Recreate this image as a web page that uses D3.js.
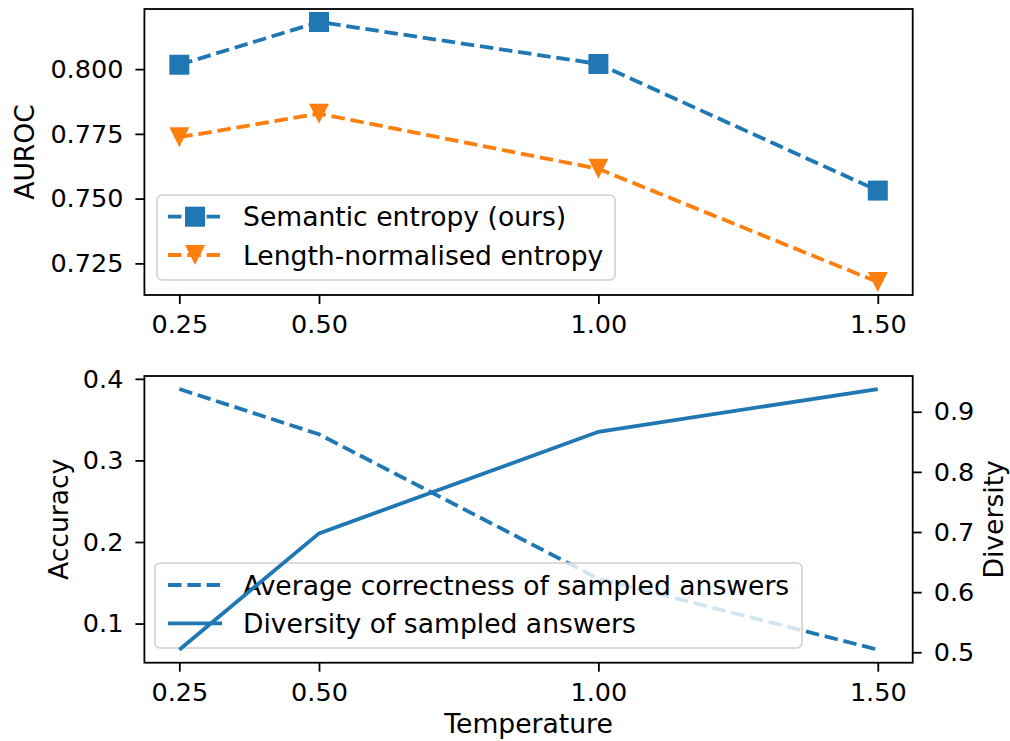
<!DOCTYPE html>
<html>
<head>
<meta charset="utf-8">
<script src="https://cdn.jsdelivr.net/npm/d3@7"></script>
<style>
  body { margin: 0; background: #fff; }
  svg text { font-family: "DejaVu Sans", sans-serif; fill: #000; }
</style>
</head>
<body>
<div id="chart"></div>
<script>
// data
const temperatures = [0.25, 0.50, 1.00, 1.50];
const semanticEntropy = [0.8017, 0.8182, 0.8020, 0.7531];
const lengthNormEntropy = [0.7737, 0.7828, 0.7615, 0.7178];
const avgCorrectness = [0.3875, 0.332, 0.155, 0.068];
const diversity = [0.5043, 0.6977, 0.8667, 0.9378];

const xTicks = [0.25, 0.50, 1.00, 1.50];
const aurocTicks = [0.725, 0.750, 0.775, 0.800];
const accTicks = [0.1, 0.2, 0.3, 0.4];
const divTicks = [0.5, 0.6, 0.7, 0.8, 0.9];

const topLegend = ['Semantic entropy (ours)', 'Length-normalised entropy'];
const bottomLegend = ['Average correctness of sampled answers', 'Diversity of sampled answers'];

const blue = '#1f77b4';
const orange = '#ff7f0e';
const tickFont = 25.5;
const labelFont = 26.6;
const lw = 3.8;
const dash = '13.5,5.8';

const W = 1010, H = 741;
const left = 144.4, right = 912.7;
const topPanel = { y0: 9, y1: 295 };
const botPanel = { y0: 376, y1: 662.7 };

const svg = d3.select('#chart').append('svg')
    .attr('width', W)
    .attr('height', H);

// matplotlib style auto limits: data extent plus 5% margin
function padded(values) {
    const [lo, hi] = d3.extent(values);
    const m = (hi - lo) * 0.05;
    return [lo - m, hi + m];
}

const x = d3.scaleLinear()
    .domain(padded(temperatures))
    .range([left, right]);

function styleAxis(g) {
    g.selectAll('.domain').remove();
    g.selectAll('.tick line').attr('stroke', '#000').attr('stroke-width', 1.8);
    g.selectAll('.tick text').attr('font-size', tickFont).attr('fill', '#000');
}

function drawFrame(panel) {
    svg.append('rect')
        .attr('x', left)
        .attr('y', panel.y0)
        .attr('width', right - left)
        .attr('height', panel.y1 - panel.y0)
        .attr('fill', 'none')
        .attr('stroke', '#000')
        .attr('stroke-width', 1.8);
}

function drawXAxis(panel) {
    svg.append('g')
        .attr('transform', `translate(0,${panel.y1})`)
        .call(d3.axisBottom(x).tickValues(xTicks).tickFormat(d3.format('.2f')).tickSize(9).tickPadding(11))
        .call(styleAxis);
}

function legendBox(g, x0, y0, w, h) {
    g.append('rect')
        .attr('x', x0)
        .attr('y', y0)
        .attr('width', w)
        .attr('height', h)
        .attr('rx', 5)
        .attr('fill', '#fff')
        .attr('fill-opacity', 0.8)
        .attr('stroke', '#d0d0d0')
        .attr('stroke-width', 1.6);
}

function triangleDown(size) {
    const h = size / 2;
    return `M${-h},${-h}L${h},${-h}L0,${h}Z`;
}

// ---------- top panel: AUROC ----------
const yTop = d3.scaleLinear()
    .domain(padded(semanticEntropy.concat(lengthNormEntropy)))
    .range([topPanel.y1, topPanel.y0]);

svg.append('g')
    .attr('transform', `translate(${left},0)`)
    .call(d3.axisLeft(yTop).tickValues(aurocTicks).tickFormat(d3.format('.3f')).tickSize(9).tickPadding(12))
    .call(styleAxis);
drawXAxis(topPanel);

const lineTop = d3.line()
    .x((d, i) => x(temperatures[i]))
    .y(d => yTop(d));

const topSeries = [
    { values: semanticEntropy, color: blue, marker: 'square' },
    { values: lengthNormEntropy, color: orange, marker: 'tri' }
];

function drawMarker(g, kind, color, cx, cy) {
    if (kind === 'square') {
        g.append('rect')
            .attr('x', cx - 10).attr('y', cy - 10)
            .attr('width', 20).attr('height', 20)
            .attr('fill', color);
    } else {
        g.append('path')
            .attr('d', triangleDown(20))
            .attr('transform', `translate(${cx},${cy})`)
            .attr('fill', color);
    }
}

topSeries.forEach(s => {
    svg.append('path')
        .datum(s.values)
        .attr('d', lineTop)
        .attr('fill', 'none')
        .attr('stroke', s.color)
        .attr('stroke-width', lw)
        .attr('stroke-dasharray', dash);
    const mg = svg.append('g');
    s.values.forEach((v, i) => drawMarker(mg, s.marker, s.color, x(temperatures[i]), yTop(v)));
});

const lgTop = svg.append('g');
legendBox(lgTop, 157, 195, 458, 85);
topSeries.forEach((s, i) => {
    const cy = 216.7 + i * 38.3;
    lgTop.append('line')
        .attr('x1', 168).attr('x2', 222)
        .attr('y1', cy).attr('y2', cy)
        .attr('stroke', s.color)
        .attr('stroke-width', lw)
        .attr('stroke-dasharray', dash);
    drawMarker(lgTop, s.marker, s.color, 195, cy);
    lgTop.append('text')
        .attr('x', 243)
        .attr('y', cy)
        .attr('dy', '0.36em')
        .attr('font-size', labelFont)
        .text(topLegend[i]);
});

drawFrame(topPanel);

svg.append('text')
    .attr('transform', `translate(24,${(topPanel.y0 + topPanel.y1) / 2}) rotate(-90)`)
    .attr('text-anchor', 'middle')
    .attr('dy', '0.36em')
    .attr('font-size', labelFont)
    .text('AUROC');

// ---------- bottom panel: accuracy & diversity ----------
const yAcc = d3.scaleLinear()
    .domain(padded(avgCorrectness))
    .range([botPanel.y1, botPanel.y0]);
const yDiv = d3.scaleLinear()
    .domain(padded(diversity))
    .range([botPanel.y1, botPanel.y0]);

svg.append('g')
    .attr('transform', `translate(${left},0)`)
    .call(d3.axisLeft(yAcc).tickValues(accTicks).tickFormat(d3.format('.1f')).tickSize(9).tickPadding(12))
    .call(styleAxis);
svg.append('g')
    .attr('transform', `translate(${right},0)`)
    .call(d3.axisRight(yDiv).tickValues(divTicks).tickFormat(d3.format('.1f')).tickSize(9).tickPadding(12))
    .call(styleAxis);
drawXAxis(botPanel);

svg.append('path')
    .datum(avgCorrectness)
    .attr('d', d3.line().x((d, i) => x(temperatures[i])).y(d => yAcc(d)))
    .attr('fill', 'none')
    .attr('stroke', blue)
    .attr('stroke-width', lw)
    .attr('stroke-dasharray', dash);

// legend belongs to the accuracy axes, so the twin-axis line sits above it
const lgBot = svg.append('g');
legendBox(lgBot, 155, 563, 647, 85);
bottomLegend.forEach((label, i) => {
    const cy = 585 + i * 38.3;
    lgBot.append('line')
        .attr('x1', 168).attr('x2', 222)
        .attr('y1', cy).attr('y2', cy)
        .attr('stroke', blue)
        .attr('stroke-width', lw)
        .attr('stroke-dasharray', i === 0 ? dash : null);
    lgBot.append('text')
        .attr('x', 243)
        .attr('y', cy)
        .attr('dy', '0.36em')
        .attr('font-size', labelFont)
        .text(label);
});

svg.append('path')
    .datum(diversity)
    .attr('d', d3.line().x((d, i) => x(temperatures[i])).y(d => yDiv(d)))
    .attr('fill', 'none')
    .attr('stroke', blue)
    .attr('stroke-width', lw);

drawFrame(botPanel);

svg.append('text')
    .attr('transform', `translate(58,${(botPanel.y0 + botPanel.y1) / 2}) rotate(-90)`)
    .attr('text-anchor', 'middle')
    .attr('dy', '0.36em')
    .attr('font-size', labelFont)
    .text('Accuracy');

svg.append('text')
    .attr('transform', `translate(993,${(botPanel.y0 + botPanel.y1) / 2}) rotate(-90)`)
    .attr('text-anchor', 'middle')
    .attr('dy', '0.36em')
    .attr('font-size', labelFont)
    .text('Diversity');

svg.append('text')
    .attr('x', (left + right) / 2)
    .attr('y', 723)
    .attr('text-anchor', 'middle')
    .attr('dy', '0.36em')
    .attr('font-size', labelFont)
    .text('Temperature');
</script>
</body>
</html>
